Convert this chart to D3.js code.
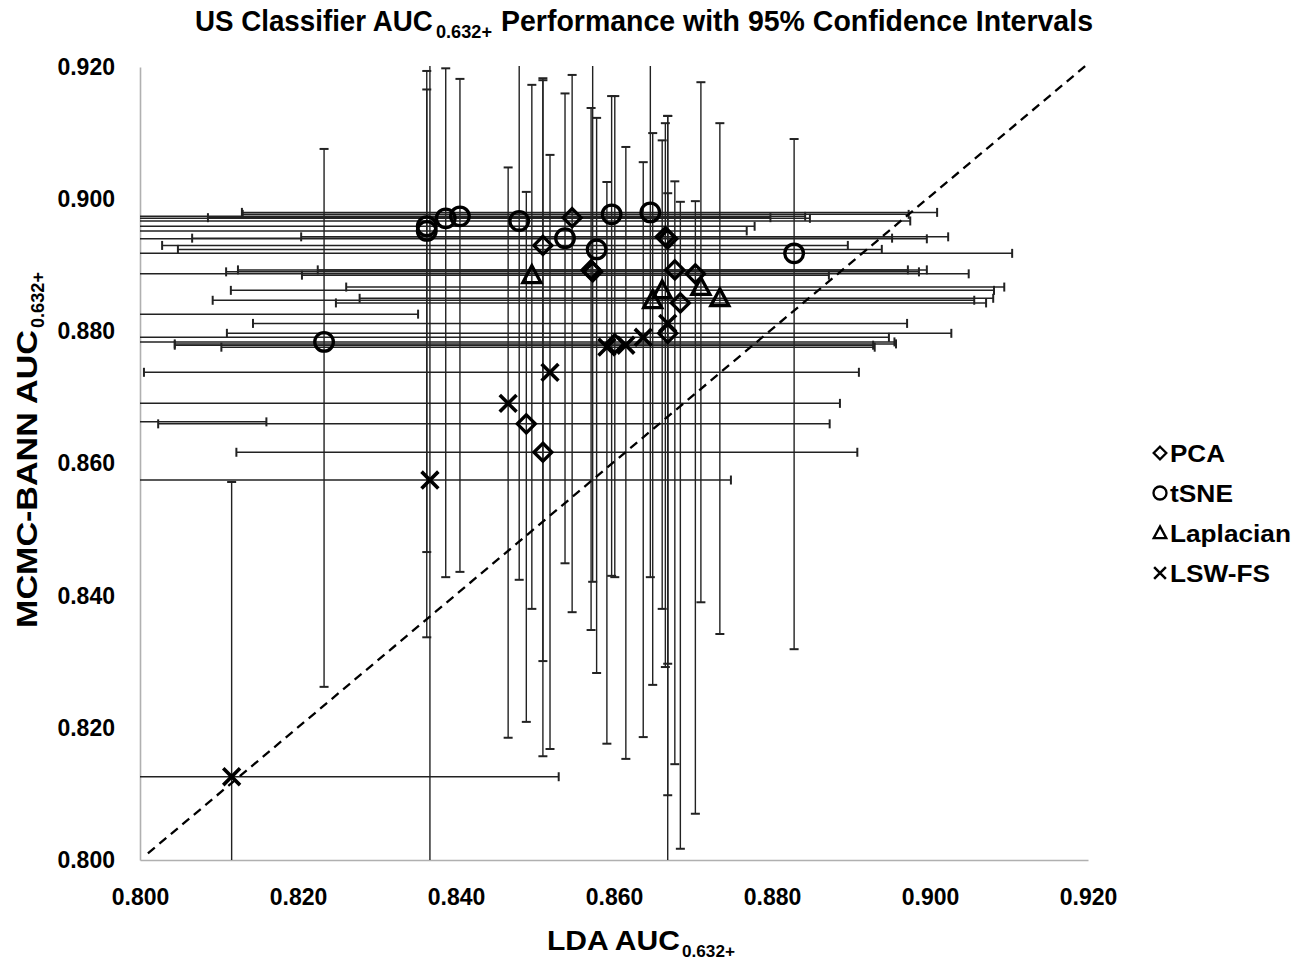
<!DOCTYPE html>
<html>
<head>
<meta charset="utf-8">
<script src="https://cdn.jsdelivr.net/npm/d3@7"></script>
<style>
  body { margin: 0; background: #fff; }
  svg { display: block; }
</style>
</head>
<body>
<svg id="chart" width="1309" height="964"></svg>
<script>
// AUC(0.632+) of the LDA classifier (x) and the MCMC-BANN classifier (y),
// with the 95% confidence interval bounds of each, per feature-reduction method.

// ---- PCA ----
const pcaLDA   = [0.8547, 0.8510, 0.8571, 0.8573, 0.8665, 0.8668, 0.8677, 0.8703, 0.8684, 0.8668, 0.8601, 0.8489, 0.8510];
const pcaBANN  = [0.8972, 0.8930, 0.8893, 0.8890, 0.8943, 0.8940, 0.8893, 0.8887, 0.8843, 0.8797, 0.8781, 0.8660, 0.8617];
const pcaLDAci = [[0.8086, 0.8798], [0.8028, 0.8896], [0.8124, 0.8972], [0.8109, 0.8986], [0.8204, 0.9023],
                  [0.7950, 0.8996], [0.8225, 0.8996], [0.7950, 0.9049], [0.8248, 0.9071], [0.8110, 0.9027],
                  [0.8044, 0.8957], [0.8023, 0.8873], [0.8122, 0.8908]];
const pcaBANNci = [[0.8375, 0.9188], [0.8301, 0.9183], [0.8348, 0.9138], [0.8421, 0.9300], [0.8292, 0.9115],
                   [0.8297, 0.9126], [0.8145, 0.9027], [0.8070, 0.8997], [0.8017, 0.8996], [0.7950, 0.9009],
                   [0.8428, 0.9156], [0.8209, 0.9011], [0.8157, 0.9180]];

// ---- tSNE ----
const tsneLDA   = [0.8363, 0.8363, 0.8387, 0.8405, 0.8480, 0.8538, 0.8578, 0.8597, 0.8646, 0.8828, 0.8233];
const tsneBANN  = [0.8959, 0.8952, 0.8971, 0.8974, 0.8967, 0.8941, 0.8924, 0.8977, 0.8980, 0.8918, 0.8784];
const tsneLDAci = [[0.7900, 0.8778], [0.7900, 0.8768], [0.7900, 0.8848], [0.7900, 0.8842], [0.7900, 0.8975],
                   [0.8066, 0.8952], [0.8048, 0.8939], [0.8130, 0.8973], [0.8129, 0.9009], [0.7900, 0.9104],
                   [0.7900, 0.8955]];
const tsneBANNci = [[0.8466, 0.9194], [0.8337, 0.9166], [0.8428, 0.9198], [0.8436, 0.9182], [0.8424, 0.9300],
                    [0.8449, 0.9160], [0.8283, 0.9123], [0.8430, 0.9156], [0.8428, 0.9300], [0.8319, 0.9091],
                    [0.8262, 0.9076]];

// ---- Laplacian ----
const lapLDA   = [0.8496, 0.8661, 0.8649, 0.8710, 0.8734, 0.7970, 0.7950];
const lapBANN  = [0.8885, 0.8862, 0.8847, 0.8867, 0.8850, 0.8826, 0.8663];
const lapLDAci = [[0.8205, 0.8872], [0.8115, 0.9081], [0.8092, 0.9056], [0.8261, 0.9094], [0.8278, 0.9080],
                  [0.7850, 0.8352], [0.7800, 0.8160]];
const lapBANNci = [[0.8380, 0.9173], [0.8380, 0.9089], [0.8265, 0.9100], [0.8390, 0.9177], [0.8342, 0.9115],
                   [0.8450, 0.9100], [0.8300, 0.9000]];

// ---- LSW-FS ----
const lswLDA   = [0.8116, 0.8367, 0.8466, 0.8519, 0.8591, 0.8615, 0.8637, 0.8668];
const lswBANN  = [0.8126, 0.8575, 0.8691, 0.8738, 0.8776, 0.8779, 0.8791, 0.8812];
const lswLDAci = [[0.7900, 0.8530], [0.7900, 0.8748], [0.7900, 0.8886], [0.8005, 0.8910], [0.8103, 0.8930],
                  [0.8044, 0.8928], [0.7900, 0.8948], [0.8143, 0.8971]];
const lswBANNci = [[0.7900, 0.8572], [0.7900, 0.9300], [0.8185, 0.9048], [0.8168, 0.9067], [0.8176, 0.9026],
                   [0.8153, 0.9079], [0.8186, 0.9056], [0.8098, 0.9126]];

const axisTicks = [0.800, 0.820, 0.840, 0.860, 0.880, 0.900, 0.920];
const seriesNames = ["PCA", "tSNE", "Laplacian", "LSW-FS"];
const seriesShapes = ["diamond", "circle", "triangle", "cross"];

const series = [
  { lda: pcaLDA,  bann: pcaBANN,  ldaCI: pcaLDAci,  bannCI: pcaBANNci },
  { lda: tsneLDA, bann: tsneBANN, ldaCI: tsneLDAci, bannCI: tsneBANNci },
  { lda: lapLDA,  bann: lapBANN,  ldaCI: lapLDAci,  bannCI: lapBANNci },
  { lda: lswLDA,  bann: lswBANN,  ldaCI: lswLDAci,  bannCI: lswBANNci }
].map((s, i) => Object.assign(s, { name: seriesNames[i], shape: seriesShapes[i] }));

// ---- layout ----
const svg = d3.select("#chart");
const plot = { left: 140, right: 1088, top: 67, bottom: 860 };
const x = d3.scaleLinear().domain([0.8, 0.92]).range([plot.left, plot.right]);
const y = d3.scaleLinear().domain([0.8, 0.92]).range([plot.bottom, plot.top]);

const FONT = "'Liberation Sans', Arial, sans-serif";

svg.append("rect").attr("width", 1309).attr("height", 964).attr("fill", "#fff");

svg.append("defs").append("clipPath").attr("id", "plotClip")
  .append("rect")
  .attr("x", plot.left).attr("y", plot.top - 1)
  .attr("width", plot.right - plot.left).attr("height", plot.bottom - plot.top + 1);

// ---- axes ----
const xAxis = d3.axisBottom(x).tickValues(axisTicks).tickFormat(d3.format(".3f")).tickSize(0).tickPadding(29);
const yAxis = d3.axisLeft(y).tickValues(axisTicks).tickFormat(d3.format(".3f")).tickSize(0).tickPadding(25);

const gx = svg.append("g").attr("transform", `translate(0,${plot.bottom})`).call(xAxis);
const gy = svg.append("g").attr("transform", `translate(${plot.left},0)`).call(yAxis);
[gx, gy].forEach(g => {
  g.select(".domain").attr("stroke", "#b0b0b0").attr("stroke-width", 1.6);
  g.selectAll("text").attr("font-family", FONT).attr("font-weight", "bold")
    .attr("font-size", 23).attr("fill", "#000");
});

// ---- error bars ----
const bars = svg.append("g").attr("clip-path", "url(#plotClip)")
  .attr("stroke", "#222").attr("fill", "none");
const CAP = 4.5;
series.forEach(s => {
  s.lda.forEach((xv, i) => {
    const yv = s.bann[i];
    const [xl, xh] = s.ldaCI[i];
    const [yl, yh] = s.bannCI[i];
    const px = x(xv), py = y(yv);
    bars.append("line").attr("x1", x(xl)).attr("x2", x(xh)).attr("y1", py).attr("y2", py).attr("stroke-width", 1.5);
    bars.append("line").attr("x1", px).attr("x2", px).attr("y1", y(yl)).attr("y2", y(yh)).attr("stroke-width", 1.4);
    [xl, xh].forEach(v => bars.append("line").attr("x1", x(v)).attr("x2", x(v))
      .attr("y1", py - CAP).attr("y2", py + CAP).attr("stroke-width", 2));
    [yl, yh].forEach(v => bars.append("line").attr("y1", y(v)).attr("y2", y(v))
      .attr("x1", px - CAP).attr("x2", px + CAP).attr("stroke-width", 2));
  });
});

// ---- line of equal performance ----
svg.append("line")
  .attr("x1", x(0.801)).attr("y1", y(0.801)).attr("x2", x(0.92)).attr("y2", y(0.9205))
  .attr("stroke", "#000").attr("stroke-width", 2.3).attr("stroke-dasharray", "9,6");

// ---- markers ----
function drawMarker(g, shape, cx, cy, k) {
  const sw = 3.3 * k;
  if (shape === "circle") {
    g.append("circle").attr("cx", cx).attr("cy", cy).attr("r", 9.3 * k)
      .attr("fill", "none").attr("stroke", "#000").attr("stroke-width", sw);
  } else if (shape === "diamond") {
    const r = 9 * k;
    g.append("path").attr("d", `M${cx},${cy - r}L${cx + r},${cy}L${cx},${cy + r}L${cx - r},${cy}Z`)
      .attr("fill", "none").attr("stroke", "#000").attr("stroke-width", sw).attr("stroke-linejoin", "miter");
  } else if (shape === "triangle") {
    const w = 9 * k, h = 8.4 * k;
    g.append("path").attr("d", `M${cx},${cy - h - 1 * k}L${cx + w},${cy + h - 1 * k}L${cx - w},${cy + h - 1 * k}Z`)
      .attr("fill", "none").attr("stroke", "#000").attr("stroke-width", sw).attr("stroke-linejoin", "miter");
  } else {
    const r = 8.4 * k;
    g.append("path").attr("d", `M${cx - r},${cy - r}L${cx + r},${cy + r}M${cx - r},${cy + r}L${cx + r},${cy - r}`)
      .attr("fill", "none").attr("stroke", "#000").attr("stroke-width", 3.6 * k);
  }
}

const marks = svg.append("g").attr("clip-path", "url(#plotClip)");
series.forEach(s => {
  s.lda.forEach((xv, i) => drawMarker(marks, s.shape, x(xv), y(s.bann[i]), 1));
});

// ---- text pieces squeezed/stretched horizontally to a given width ----
function piece(parent, str, px, py, size, width) {
  const t = parent.append("text").attr("x", 0).attr("y", 0)
    .attr("font-family", FONT).attr("font-weight", "bold").attr("font-size", size).text(str);
  const natural = t.node().getComputedTextLength() || width;
  t.attr("transform", `translate(${px},${py}) scale(${width / natural},1)`);
  return t;
}

// ---- legend ----
const legendWidths = [55, 63, 121, 100];
const legend = svg.append("g");
series.forEach((s, i) => {
  const ly = 453 + i * 40;
  drawMarker(legend, s.shape, 1160, ly, 0.7);
  piece(legend, s.name, 1170, ly + 8.5, 23, legendWidths[i]);
});

// chart title
piece(svg, "US Classifier AUC", 195, 31, 30, 238);
piece(svg, "0.632+", 436, 38, 18.6, 56);
piece(svg, "Performance with 95% Confidence Intervals", 501, 31, 30, 592);

// x-axis title
piece(svg, "LDA AUC", 547, 950, 28, 133);
piece(svg, "0.632+", 682, 957, 17.4, 53);

// y-axis title
const yTitle = svg.append("g").attr("transform", "translate(37,628) rotate(-90)");
piece(yTitle, "MCMC-BANN AUC", 0, 0, 29, 298);
piece(yTitle, "0.632+", 300, 7, 18, 56);
</script>
</body>
</html>
